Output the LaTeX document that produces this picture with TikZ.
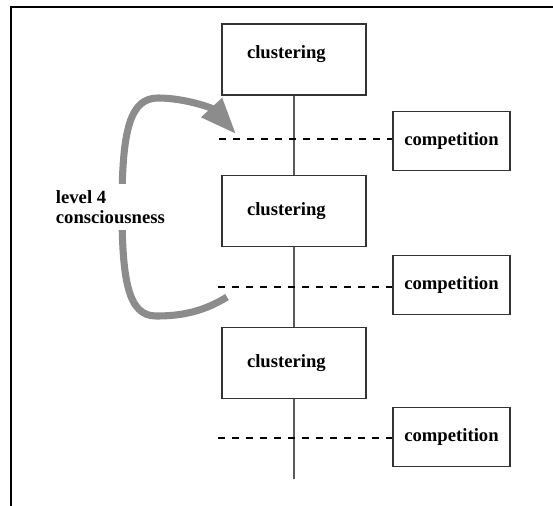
\documentclass[tikz,border=0pt]{standalone}
\usepackage{fontspec}
\setmainfont{Liberation Serif}
\usetikzlibrary{arrows.meta}
\begin{document}
\begin{tikzpicture}[x=0.75pt, y=-0.75pt,
    clbox/.style={draw=black!80, line width=1.2pt, minimum height=53.5pt,
                  text width=70.5pt, inner xsep=18.75pt, align=left,
                  font=\bfseries\fontsize{14}{15}\selectfont},
    cpbox/.style={draw=black!80, line width=1.2pt, minimum width=87.75pt,
                  minimum height=44pt, align=center,
                  font=\bfseries\fontsize{14}{15}\selectfont},
    stem/.style={draw=black!65, line width=1.5pt},
    dsh/.style={draw=black, line width=1.1pt, dash pattern=on 5pt off 5.5pt},
    loop/.style={draw=black!45, line width=5.3pt,
                 -{Triangle[length=27pt,width=20pt]}},
]
\useasboundingbox (0,0) rectangle (553,506);

% frame
\draw[line width=2.2pt] (11,506) -- (11,7) -- (553,7);

\node[clbox, text depth=11pt] (cl1) at (294,59.5) {clustering};
\node[clbox] (cl2) at (294,211)  {clustering};
\node[clbox] (cl3) at (294,363)  {clustering};

\node[cpbox] (cp1) at (451.5,141) {competition};
\node[cpbox] (cp2) at (451.5,285) {competition};
\node[cpbox] (cp3) at (451.5,437) {competition};

\coordinate (d1)  at (219,139);
\coordinate (d2)  at (218,287);
\coordinate (d3)  at (218,438);
\coordinate (bot) at (294,479);

\draw[stem] (cl1) -- (cl2);
\draw[stem] (cl2) -- (cl3);
\draw[stem] (cl3) -- (bot);

\draw[dsh] (d1) -- (d1 -| cp1.west);
\draw[dsh] (d2) -- (d2 -| cp2.west);
\draw[dsh] (d3) -- (d3 -| cp3.west);

% feedback loop
\coordinate (lpa) at (227,297);
\coordinate (lpb) at (236,134);
\draw[loop] (lpa) .. controls (200,314) and (175,316) .. (156,316)
    .. controls (128,316) and (122,280) .. (122,207)
    .. controls (122,130) and (130,98) .. (158,98)
    .. controls (185,98) and (212,108) .. (lpb);

\node[fill=white, anchor=west, align=left, inner xsep=2pt, inner ysep=5pt,
      font=\bfseries\fontsize{14}{15}\selectfont] (lvl) at (53,207)
      {level 4\\consciousness};
\end{tikzpicture}
\end{document}
